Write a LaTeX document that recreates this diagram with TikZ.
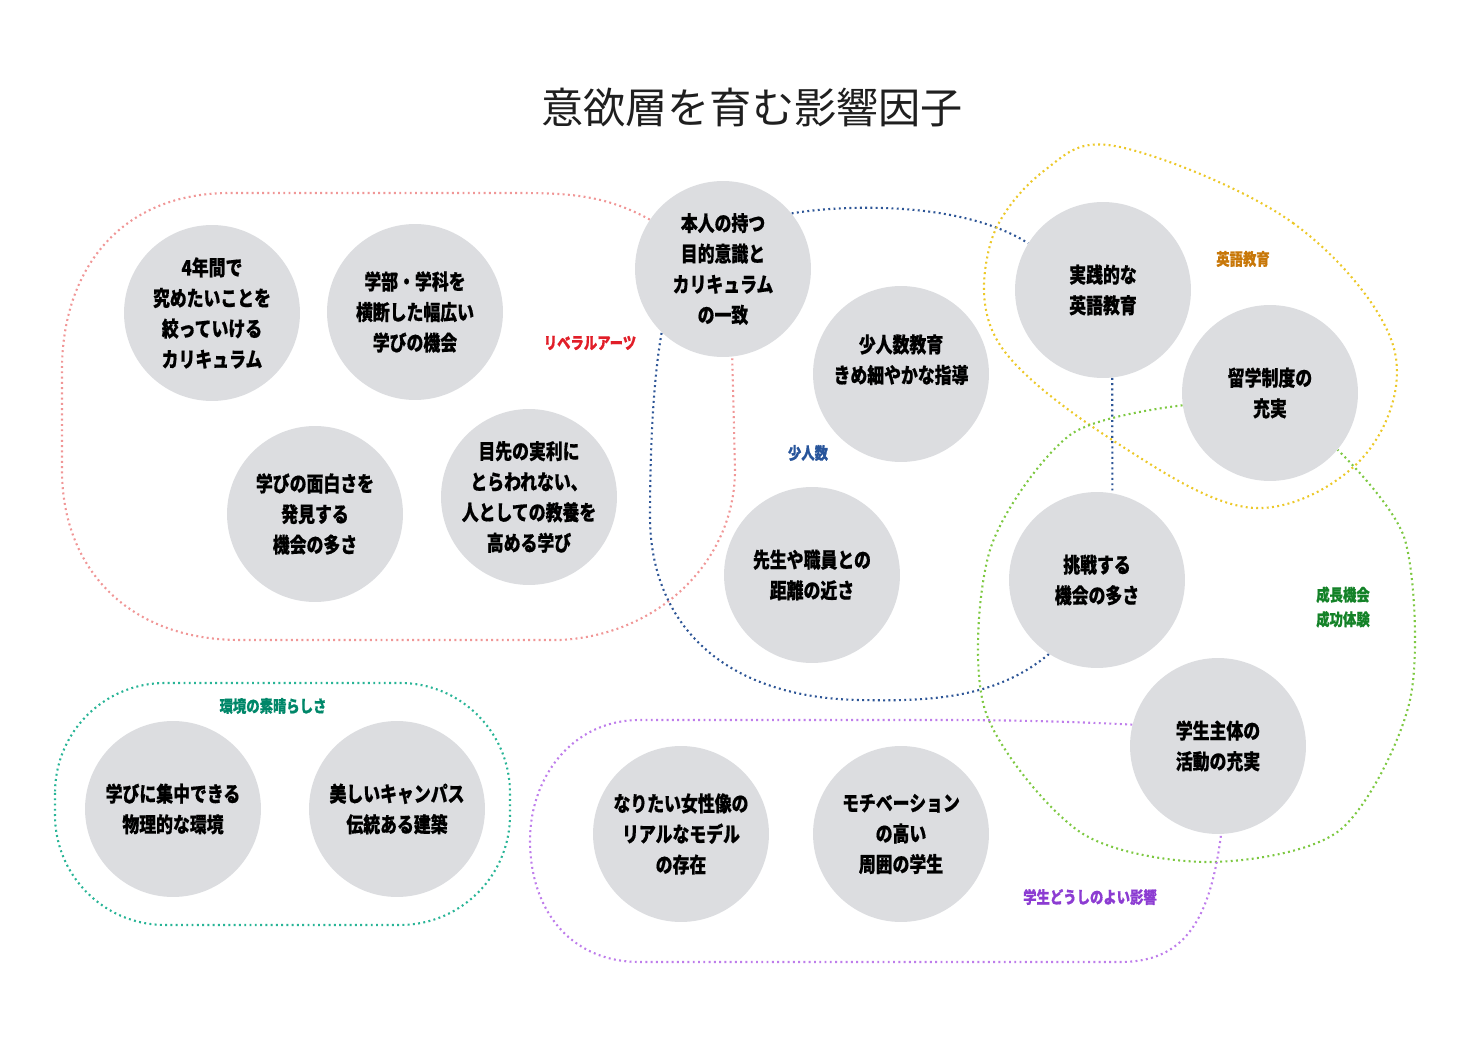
\documentclass[tikz,border=0pt]{standalone}
\usepackage{fontspec}
\newfontfamily\jpfont[FakeStretch=0.8, BoldFeatures={FakeBold=0.6}]{Noto Sans CJK JP}
\newfontfamily\jptitle{Noto Sans CJK JP}
\usetikzlibrary{backgrounds}
\definecolor{marugray}{RGB}{220,221,224}
\definecolor{senRed}{RGB}{240,150,150}
\definecolor{senBlue}{RGB}{45,85,150}
\definecolor{senYellow}{RGB}{236,200,40}
\definecolor{senGreen}{RGB}{125,200,65}
\definecolor{senPurple}{RGB}{190,125,235}
\definecolor{senTeal}{RGB}{40,180,150}
\definecolor{labRed}{RGB}{225,30,40}
\definecolor{labBlue}{RGB}{40,85,155}
\definecolor{labOrange}{RGB}{200,120,10}
\definecolor{labGreen}{RGB}{20,130,40}
\definecolor{labPurple}{RGB}{140,60,210}
\definecolor{labTeal}{RGB}{0,135,105}
\begin{document}
\begin{tikzpicture}[x=0.02cm, y=-0.02cm, line join=round,
	maru/.style={circle, fill=marugray, minimum size=3.52cm, inner sep=0pt, align=center,
		font=\jpfont\bfseries\fontsize{12}{17.4}\selectfont},
	kakomi/.style={draw=#1, line width=1.2pt, line cap=butt, dash pattern=on 1.1pt off 1.9pt},
	midashi/.style={text=#1, align=center, font=\jpfont\bfseries\fontsize{9.5}{14}\selectfont}]
	\useasboundingbox (0,0) rectangle (1478,1044);
	\node[text=black!88] (title) at (752,108) {\jptitle\fontsize{24}{28}\selectfont 意欲層を育む影響因子};
	% 因子
	\node[maru] (shinen) at (212,313) {4年間で\\究めたいことを\\絞っていける\\カリキュラム};
	\node[maru] (gakubu) at (415,312) {学部・学科を\\横断した幅広い\\学びの機会};
	\node[maru] (omoshiro) at (315,514) {学びの面白さを\\発見する\\機会の多さ};
	\node[maru] (jitsuri) at (529,497) {目先の実利に\\とらわれない、\\人としての教養を\\高める学び};
	\node[maru] (honnin) at (723,269) {本人の持つ\\目的意識と\\カリキュラム\\の一致};
	\node[maru] (shoninzu) at (901,374) {少人数教育\\きめ細やかな指導\\\mbox{}};
	\node[maru] (kyori) at (812,575) {先生や職員との\\距離の近さ};
	\node[maru] (eigo) at (1103,290) {実践的な\\英語教育};
	\node[maru] (ryugaku) at (1270,393) {留学制度の\\充実};
	\node[maru] (chosen) at (1097,580) {挑戦する\\機会の多さ};
	\node[maru] (shutai) at (1218,746) {学生主体の\\活動の充実};
	\node[maru] (kankyo) at (173,809) {学びに集中できる\\物理的な環境};
	\node[maru] (campus) at (397,809) {美しいキャンパス\\伝統ある建築};
	\node[maru] (josei) at (681,834) {なりたい女性像の\\リアルなモデル\\の存在};
	\node[maru] (shui) at (901,834) {モチベーション\\の高い\\周囲の学生};
	% 見出し
	\node[midashi=labRed] (lbLiberal) at (590,343) {リベラルアーツ};
	\node[midashi=labBlue] (lbShoninzu) at (808,453) {少人数};
	\node[midashi=labOrange] (lbEigo) at (1243,259) {英語教育};
	\node[midashi=labGreen] (lbSeicho) at (1343,607) {成長機会\\成功体験};
	\node[midashi=labPurple] (lbGakusei) at (1090,897) {学生どうしのよい影響};
	\node[midashi=labTeal] (lbKankyo) at (273,706) {環境の素晴らしさ};
	\begin{scope}[on background layer]
		% リベラルアーツ
		\draw[kakomi=senRed] (honnin.146) .. controls (600,192) and (560,193) .. (500,193) -- (230,193)
			.. controls (120,193) and (62,270) .. (62,370) -- (62,470)
			.. controls (62,570) and (130,640) .. (240,640) -- (560,640)
			.. controls (660,635) and (735,560) .. (735,470) -- (honnin.276);
		% 少人数
		\draw[kakomi=senBlue] (honnin.39) .. controls (840,205) and (960,200) .. (eigo.148);
		\draw[kakomi=senBlue] (eigo.276) -- (chosen.80);
		\draw[kakomi=senBlue] (chosen.237) .. controls (1000,695) and (940,702) .. (860,700)
			.. controls (730,698) and (652,630) .. (650,520) .. controls (650,430) and (655,370) .. (honnin.226);
		% 英語教育
		\draw[kakomi=senYellow] plot[smooth cycle, tension=0.6] coordinates {(1120,147) (1293,223) (1393,345)
			(1365,455) (1255,508) (1120,445) (1000,345) (990,245) (1045,170)};
		% 成長機会
		\draw[kakomi=senGreen] plot[smooth] coordinates {(ryugaku.188) (1070,435) (990,550) (985,710)
			(1080,832) (1210,862) (1340,830) (1410,700) (1405,540) (ryugaku.-40)};
		% 学生どうし
		\draw[kakomi=senPurple] (shutai.166) .. controls (1060,721) and (1000,720) .. (940,720) -- (640,720)
			.. controls (570,720) and (530,780) .. (530,840) .. controls (530,910) and (570,962) .. (640,962)
			-- (1120,962) .. controls (1185,962) and (1210,920) .. (shutai.-88);
		% 環境
		\draw[kakomi=senTeal, rounded corners=2.2cm] (55,683) rectangle (510,925);
	\end{scope}
\end{tikzpicture}
\end{document}
